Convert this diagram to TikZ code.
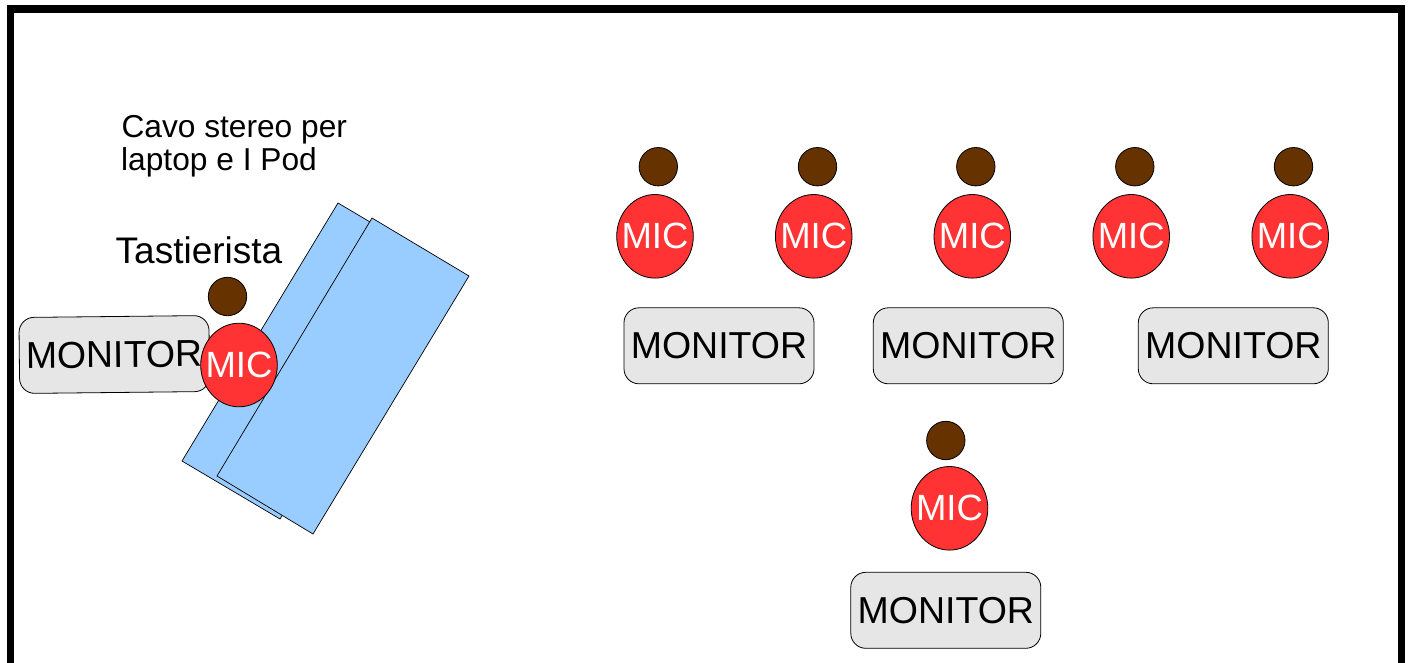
\documentclass[tikz,border=0pt]{standalone}
\usepackage{fontspec}
\setmainfont{Liberation Sans}
\usetikzlibrary{shapes.geometric}
\definecolor{micred}{HTML}{FF3333}
\definecolor{headbrown}{HTML}{663300}
\definecolor{mongray}{HTML}{E6E6E6}
\definecolor{kbblue}{HTML}{99CCFF}
\tikzset{
  monitorbox/.style={draw=black, line width=0.8pt, fill=mongray, rounded corners=15pt,
    minimum width=190pt, minimum height=76pt, inner sep=0pt,
    font=\fontsize{37.5}{40}\selectfont},
  mictext/.style={text=white, inner sep=0pt, font=\fontsize{36.5}{40}\selectfont},
  micnode/.style={ellipse, draw=black, line width=0.8pt, fill=micred,
    minimum width=76.6pt, minimum height=83.6pt, inner sep=0pt,
    label={[mictext]center:MIC}},
  headnode/.style={circle, draw=black, line width=0.8pt, fill=headbrown,
    minimum size=38.4pt, inner sep=0pt},
  kbpanel/.style={draw=black, line width=0.7pt, fill=kbblue},
  label36/.style={anchor=base west, inner sep=0pt, font=\fontsize{37}{40}\selectfont},
  label31/.style={anchor=base west, inner sep=0pt, font=\fontsize{31.7}{33}\selectfont},
}
\begin{document}
\begin{tikzpicture}[x=1pt, y=-1pt]
\useasboundingbox (0,0) rectangle (1408,662);
\fill[white] (0,0) rectangle (1408,662);
% frame
\draw[line width=7.5pt] (10.5,720) -- (10.5,8.8) -- (1401.5,8.8) -- (1401.5,720);

% texts
\node[label31] (cavo1) at (121.3,137.7) {Cavo stereo per};
\node[label31] (cavo2) at (121,170) {laptop e I Pod};
\node[label36] (tast) at (115.5,263) {Tastierista};

% keyboard panels
\draw[kbpanel] (338,203) -- (436,261) -- (280,519) -- (182,461) -- cycle;
\draw[kbpanel] (372,218) -- (469,276) -- (313,534) -- (217,476) -- cycle;

% keyboard player
\node[monitorbox, rotate=0.6] (mon0) at (114.3,354.5) {MONITOR};
\node[micnode] (mic0) at (239,365) {};
\node[headnode] (head0) at (227.5,296.5) {};

% front row
\node[headnode] (head1) at (658.3,166.7) {};
\node[headnode] (head2) at (817.5,166.7) {};
\node[headnode] (head3) at (975.8,166.7) {};
\node[headnode] (head4) at (1134.8,166.7) {};
\node[headnode] (head5) at (1293.5,166.7) {};
\node[micnode] (mic1) at (655,236.3) {};
\node[micnode] (mic2) at (813.7,236.3) {};
\node[micnode] (mic3) at (972.3,236.3) {};
\node[micnode] (mic4) at (1131.2,236.3) {};
\node[micnode] (mic5) at (1290.2,236.3) {};
\node[monitorbox] (mon1) at (719,345.8) {MONITOR};
\node[monitorbox] (mon2) at (968.3,345.8) {MONITOR};
\node[monitorbox] (mon3) at (1233.3,345.8) {MONITOR};

% bottom singer
\node[headnode] (head6) at (945.8,440.5) {};
\node[micnode] (mic6) at (949.5,508.3) {};
\node[monitorbox] (mon4) at (945.8,610.3) {MONITOR};
\end{tikzpicture}
\end{document}
